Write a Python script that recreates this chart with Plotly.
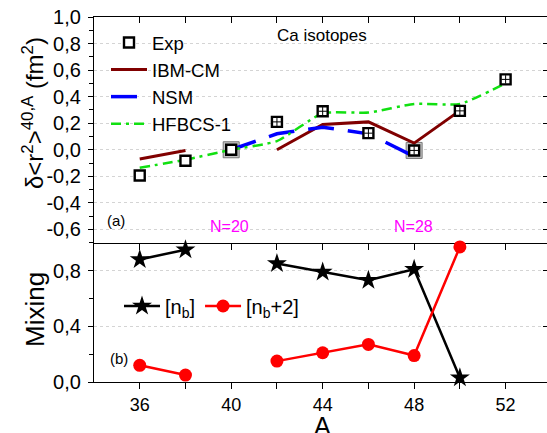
import plotly.graph_objects as go

# ---------------- data ----------------
A = [36, 38, 40, 42, 44, 46, 48, 50, 52]
exp_dr2 = [-0.194, -0.083, 0.0, 0.21, 0.29, 0.125, -0.005, 0.293, 0.53]
ibm_cm = [-0.07, -0.005, None, 0.0, 0.19, 0.21, 0.05, 0.295, None]
nsm = [None, None, 0.0, 0.12, 0.17, 0.12, -0.05, None, None]
hfbcs = [-0.135, -0.075, 0.0, 0.065, 0.275, 0.28, 0.345, 0.345, 0.50]
closed_shell = [40, 48]          # highlighted (N=20, N=28)
err_mark_from = 42               # points drawn with error cross

mix_nb = [0.88, 0.95, None, 0.85, 0.79, 0.73, 0.81, 0.03, None]
mix_nb2 = [0.12, 0.05, None, 0.15, 0.21, 0.27, 0.19, 0.97, None]

x_tickvals = [36, 38, 40, 42, 44, 46, 48, 50, 52]
x_ticktext = ["36", "", "40", "", "44", "", "48", "", "52"]
y1_tickvals = [-0.6, -0.4, -0.2, 0.0, 0.2, 0.4, 0.6, 0.8, 1.0]
y1_ticktext = ["-0,6", "-0,4", "-0,2", "0,0", "0,2", "0,4", "0,6", "0,8", "1,0"]
y2_tickvals = [0.0, 0.4, 0.8]
y2_ticktext = ["0,0", "0,4", "0,8"]

# ---------------- geometry helpers ----------------
W, H = 547, 433
ML, MR, MT, MB = 94, 0, 17, 51
PW, PH = W - ML - MR, H - MT - MB
split = (H - MB - 242.7) / PH


def px(x):
    return (x - ML) / PW


def py(y):
    return (H - MB - y) / PH


FONT = "Liberation Sans, Arial, sans-serif"
XR = [34, 53.81]

fig = go.Figure()

# grey boxes behind closed-shell points
box_x = [a for a in A if a in closed_shell]
box_y = [exp_dr2[A.index(a)] for a in box_x]
fig.add_trace(go.Scatter(x=box_x, y=box_y, mode="markers", showlegend=False,
                         marker=dict(symbol="square", size=16, color="#c4c4c4",
                                     line=dict(color="#7a7a7a", width=1)),
                         xaxis="x", yaxis="y", hoverinfo="skip"))

fig.add_trace(go.Scatter(x=A, y=ibm_cm, mode="lines", name="IBM-CM", legendrank=2,
                         line=dict(color="#800000", width=3), connectgaps=False,
                         xaxis="x", yaxis="y", legend="legend"))
fig.add_trace(go.Scatter(x=A, y=nsm, mode="lines", name="NSM", legendrank=3,
                         line=dict(color="#0000ff", width=3.5, dash="26px,14px"),
                         connectgaps=False, xaxis="x", yaxis="y", legend="legend"))
fig.add_trace(go.Scatter(x=A, y=hfbcs, mode="lines", name="HFBCS-1", legendrank=4,
                         line=dict(color="#11e011", width=2.5, dash="10px,5px,3px,5px",
                                   shape="spline", smoothing=0.5),
                         xaxis="x", yaxis="y", legend="legend"))
fig.add_trace(go.Scatter(x=A, y=exp_dr2, mode="markers", name="Exp", legendrank=1,
                         marker=dict(symbol="square", size=10, color="white",
                                     line=dict(color="black", width=2.4)),
                         xaxis="x", yaxis="y", legend="legend"))
cx = [a for a in A if a >= err_mark_from]
cy = [exp_dr2[A.index(a)] for a in cx]
fig.add_trace(go.Scatter(x=cx, y=cy, mode="markers", showlegend=False, hoverinfo="skip",
                         marker=dict(symbol="cross-thin", size=6,
                                     line=dict(color="black", width=1)),
                         xaxis="x", yaxis="y"))

# bottom panel
fig.add_trace(go.Scatter(x=A, y=mix_nb, mode="lines+markers", name="[n<sub>b</sub>]",
                         line=dict(color="black", width=2.5),
                         marker=dict(symbol="star", size=15, color="black"),
                         connectgaps=False, cliponaxis=False,
                         xaxis="x2", yaxis="y2", legend="legend2"))
fig.add_trace(go.Scatter(x=A, y=mix_nb2, mode="lines+markers", name="[n<sub>b</sub>+2]",
                         line=dict(color="#ff0000", width=2.5),
                         marker=dict(symbol="circle", size=13, color="#ff0000"),
                         connectgaps=False, cliponaxis=False,
                         xaxis="x2", yaxis="y2", legend="legend2"))

# dummy traces for mirror axes
for xa, ya in [("x3", "y"), ("x", "y3"), ("x2", "y4")]:
    fig.add_trace(go.Scatter(x=[None], y=[None], showlegend=False, hoverinfo="skip",
                             xaxis=xa, yaxis=ya))

axcommon = dict(linecolor="black", linewidth=1.3, tickcolor="black", tickwidth=1.3,
                zeroline=False)
xfont = dict(family=FONT, size=18, color="black")
yfont = dict(family=FONT, size=20, color="black")
GRID = "#d4d4d4"

fig.update_layout(
    width=W, height=H,
    margin=dict(l=ML, r=MR, t=MT, b=MB),
    paper_bgcolor="white", plot_bgcolor="white",
    font=dict(family=FONT, color="black"),
    xaxis=dict(range=XR, domain=[0, 1], anchor="y", showline=True, showgrid=False,
               tickvals=x_tickvals, ticktext=x_ticktext, showticklabels=False,
               ticks="outside", ticklen=6, tickfont=xfont, **axcommon),
    xaxis3=dict(range=XR, overlaying="x", side="top", anchor="y", showline=True,
                showgrid=False, tickvals=x_tickvals, showticklabels=False,
                ticks="inside", ticklen=6, **axcommon),
    yaxis=dict(range=[-0.7, 1.0], domain=[split, 1], anchor="x", showline=True,
               tickvals=y1_tickvals, ticktext=y1_ticktext, ticks="outside", ticklen=5,
               showgrid=True, gridcolor=GRID, griddash="dot", gridwidth=1,
               minor=dict(tickvals=[-0.7, -0.5, -0.3, -0.1, 0.1, 0.3, 0.5, 0.7, 0.9],
                          ticks="outside", ticklen=4, tickcolor="black", showgrid=False),
               ticklabelstandoff=3, tickfont=yfont, **axcommon),
    yaxis3=dict(range=[-0.7, 1.0], overlaying="y", side="right", anchor="x",
                showline=False, showgrid=False, tickvals=y1_tickvals,
                showticklabels=False, ticks="inside", ticklen=4, **axcommon),
    xaxis2=dict(range=XR, domain=[0, 1], anchor="y2", showline=True, showgrid=False,
                tickvals=x_tickvals, ticktext=x_ticktext, ticks="outside", ticklen=6,
                tickfont=xfont, **axcommon),
    yaxis2=dict(range=[0, 1.0], domain=[0, split], anchor="x2", showline=True,
                tickvals=y2_tickvals, ticktext=y2_ticktext, ticks="outside", ticklen=5,
                showgrid=True, gridcolor=GRID, griddash="dot", gridwidth=1,
                minor=dict(tickvals=[0.2, 0.6, 1.0], ticks="outside", ticklen=4,
                           tickcolor="black", showgrid=False),
                ticklabelstandoff=3, tickfont=yfont, **axcommon),
    yaxis4=dict(range=[0, 1.0], overlaying="y2", side="right", anchor="x2",
                showline=False, showgrid=False, tickvals=y2_tickvals,
                showticklabels=False, ticks="inside", ticklen=4, **axcommon),
    legend=dict(x=px(106), y=py(24), xanchor="left", yanchor="top",
                bgcolor="rgba(0,0,0,0)", font=dict(family=FONT, size=18.5, color="black"),
                tracegroupgap=0, itemwidth=36),
    legend2=dict(x=px(119), y=py(306), xanchor="left", yanchor="middle",
                 orientation="h", bgcolor="rgba(0,0,0,0)",
                 font=dict(family=FONT, size=20, color="black"), itemwidth=36),
    showlegend=True,
)

ann = [
    dict(text="Ca isotopes", x=px(322), y=py(35), size=17, color="black"),
    dict(text="(a)", x=px(116), y=py(220), size=15, color="black"),
    dict(text="N=20", x=px(229), y=py(226), size=16, color="#ff00ff"),
    dict(text="N=28", x=px(413), y=py(226), size=16, color="#ff00ff"),
    dict(text="(b)", x=px(119), y=py(358), size=15, color="black"),
    dict(text="A", x=px(322), y=py(426), size=25, color="black"),
]
for a in ann:
    fig.add_annotation(text=a["text"], x=a["x"], y=a["y"], xref="paper", yref="paper",
                       xanchor="center", yanchor="middle", showarrow=False,
                       font=dict(family=FONT, size=a["size"], color=a["color"]))

fig.add_annotation(text="δ&lt;r<sup>2</sup>&gt;<sup>40,A</sup> (fm<sup>2</sup>)",
                   x=px(33), y=py(113), xref="paper", yref="paper", textangle=-90,
                   xanchor="center", yanchor="middle", showarrow=False,
                   font=dict(family=FONT, size=24, color="black"))
fig.add_annotation(text="Mixing", x=px(35), y=py(310), xref="paper", yref="paper",
                   textangle=-90, xanchor="center", yanchor="middle", showarrow=False,
                   font=dict(family=FONT, size=26, color="black"))

fig.write_html("out.html")
